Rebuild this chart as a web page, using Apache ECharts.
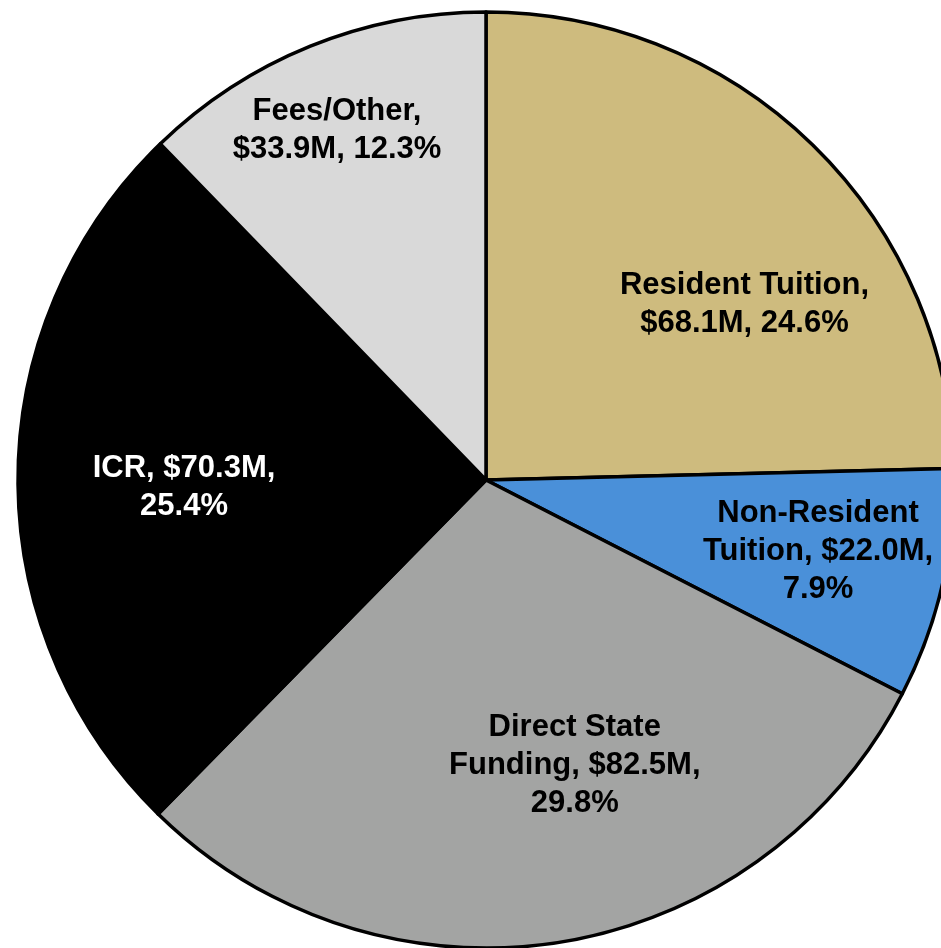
<!DOCTYPE html>
<html>
<head>
<meta charset="utf-8">
<script src="https://cdn.jsdelivr.net/npm/echarts@6/dist/echarts.min.js"></script>
<style>
html, body { margin: 0; padding: 0; background: #fff; }
#pie { width: 941px; height: 948px; }
</style>
</head>
<body>
<div id="pie"></div>
<script>
// data, clockwise from 12 o'clock
var names = ['Resident Tuition', 'Non-Resident\nTuition', 'Direct State\nFunding', 'ICR', 'Fees/Other'];
var amounts = [68.1, 22.0, 82.5, 70.3, 33.9];      // $M
var shares = ['24.6', '7.9', '29.8', '25.4', '12.3']; // % as printed
var breakAfterName = [true, false, false, false, true];

var colors = ['#cebb7e', '#4a90d9', '#a3a4a3', '#000000', '#d9d9d9'];
var textColors = ['#000', '#000', '#000', '#fff', '#000'];
// nudge of each label away from the default inside spot
var labelShift = [[93, -6], [101, 19], [51, 51], [-65, 8], [-60, -130]];

var myChart = echarts.init(document.getElementById('pie'));

var pieData = names.map(function (n, i) {
	return {
		name: n,
		value: amounts[i],
		itemStyle: { color: colors[i] },
		label: { color: textColors[i] }
	};
});

var option = {
	backgroundColor: '#ffffff',
	animation: false,
	series: [{
		type: 'pie',
		center: [486, 480],
		radius: 468,
		startAngle: 90,
		clockwise: true,
		silent: true,
		itemStyle: {
			borderColor: '#000',
			borderWidth: 3.5
		},
		label: {
			show: true,
			position: 'inside',
			fontFamily: '"Liberation Sans", Arial, sans-serif',
			fontWeight: 'bold',
			fontSize: 31,
			lineHeight: 38,
			align: 'center',
			formatter: function (p) {
				var i = p.dataIndex;
				var v = '$' + amounts[i].toFixed(1) + 'M';
				if (breakAfterName[i]) {
					return p.name + ',\n' + v + ', ' + shares[i] + '%';
				}
				return p.name + ', ' + v + ',\n' + shares[i] + '%';
			}
		},
		labelLine: { show: false },
		labelLayout: function (p) {
			return { dx: labelShift[p.dataIndex][0], dy: labelShift[p.dataIndex][1] };
		},
		data: pieData
	}]
};

myChart.setOption(option);
</script>
</body>
</html>
